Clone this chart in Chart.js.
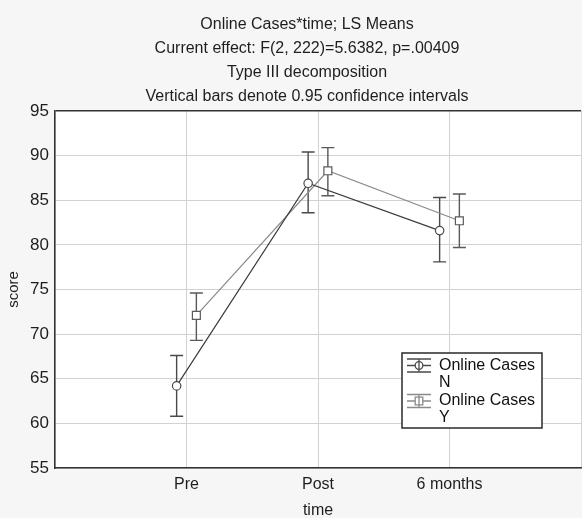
<!DOCTYPE html>
<html>
<head>
<meta charset="utf-8">
<script src="https://cdn.jsdelivr.net/npm/chart.js@4/dist/chart.umd.min.js"></script>
<style>
  html, body { margin: 0; padding: 0; background: #f6f6f6; }
  canvas { display: block; }
</style>
</head>
<body>
<canvas id="c" width="582" height="518"></canvas>
<script>
// LS means of score by time, split by Online Cases (N / Y), with 95% CIs
const categories = ['Pre', 'Post', '6 months'];

const meanN = [64.2, 86.9, 81.6];
const lowN  = [60.8, 83.6, 78.1];
const highN = [67.6, 90.4, 85.3];

const meanY = [72.1, 88.3, 82.7];
const lowY  = [69.3, 85.5, 79.7];
const highY = [74.6, 90.9, 85.7];

const titleLines = [
  'Online Cases*time; LS Means',
  'Current effect: F(2, 222)=5.6382, p=.00409',
  'Type III decomposition',
  'Vertical bars denote 0.95 confidence intervals'
];
const legendLabels = [['Online Cases', 'N'], ['Online Cases', 'Y']];

const FONT = '"Liberation Sans", Arial, Helvetica, sans-serif';
const DODGE = 0.075; // horizontal shift so the two groups don't overlap

function points(means, shift) {
  return means.map((v, i) => ({ x: i + 1 + shift, y: v }));
}

const seriesStyle = [
  { line: '#3c3c3c', bar: '#4a4a4a', point: 'circle', radius: 4.2 },
  { line: '#8a8a8a', bar: '#5a5a5a', point: 'rect', radius: 5.6 }
];
const intervals = [
  { low: lowN, high: highN, shift: -DODGE },
  { low: lowY, high: highY, shift: DODGE }
];

// background: grey page, white plotting area
const backgroundPlugin = {
  id: 'bg',
  beforeDraw(chart) {
    const { ctx, chartArea: a } = chart;
    ctx.save();
    ctx.fillStyle = '#f6f6f6';
    ctx.fillRect(0, 0, chart.width, chart.height);
    ctx.fillStyle = '#ffffff';
    ctx.fillRect(a.left, a.top, a.right - a.left, a.bottom - a.top);
    ctx.restore();
  }
};

// confidence interval whiskers
const errorBarPlugin = {
  id: 'errorBars',
  beforeDatasetsDraw(chart) {
    const { ctx, scales: { x, y } } = chart;
    ctx.save();
    intervals.forEach((iv, s) => {
      ctx.strokeStyle = seriesStyle[s].bar;
      ctx.lineWidth = 1.4;
      iv.low.forEach((lo, i) => {
        const px = x.getPixelForValue(i + 1 + iv.shift);
        const pLo = y.getPixelForValue(lo);
        const pHi = y.getPixelForValue(iv.high[i]);
        const cap = 6.5;
        ctx.beginPath();
        ctx.moveTo(px, pLo); ctx.lineTo(px, pHi);
        ctx.moveTo(px - cap, pLo); ctx.lineTo(px + cap, pLo);
        ctx.moveTo(px - cap, pHi); ctx.lineTo(px + cap, pHi);
        ctx.stroke();
      });
    });
    ctx.restore();
  }
};

// stacked title lines
const titlePlugin = {
  id: 'titles',
  afterDraw(chart) {
    const { ctx } = chart;
    ctx.save();
    ctx.fillStyle = '#1e1e1e';
    ctx.font = '16px ' + FONT;
    ctx.textAlign = 'center';
    ctx.textBaseline = 'middle';
    const ys = [25, 49, 73, 97];
    titleLines.forEach((t, i) => ctx.fillText(t, 307, ys[i]));
    ctx.restore();
  }
};

// boxed legend with whisker glyphs and two-line labels
const legendPlugin = {
  id: 'boxLegend',
  afterDraw(chart) {
    const { ctx } = chart;
    const bx = 402, by = 353, bw = 140, bh = 75;
    ctx.save();
    ctx.fillStyle = '#ffffff';
    ctx.fillRect(bx, by, bw, bh);
    ctx.strokeStyle = '#2a2a2a';
    ctx.lineWidth = 1.5;
    ctx.strokeRect(bx, by, bw, bh);
    ctx.font = '16px ' + FONT;
    ctx.textBaseline = 'middle';
    ctx.textAlign = 'left';
    legendLabels.forEach((lab, s) => {
      const cy = by + 12.5 + s * 35.5;
      const st = seriesStyle[s];
      const gx0 = bx + 5, gx1 = bx + 29, gc = (gx0 + gx1) / 2;
      ctx.strokeStyle = s === 0 ? '#4a4a4a' : '#8a8a8a';
      ctx.lineWidth = 1.3;
      ctx.beginPath();
      ctx.moveTo(gx0, cy - 6.5); ctx.lineTo(gx1, cy - 6.5);
      ctx.moveTo(gx0, cy + 6.5); ctx.lineTo(gx1, cy + 6.5);
      ctx.moveTo(gx0, cy); ctx.lineTo(gx1, cy);
      ctx.moveTo(gc, cy - 6.5); ctx.lineTo(gc, cy + 6.5);
      ctx.stroke();
      ctx.fillStyle = '#ffffff';
      ctx.beginPath();
      if (st.point === 'circle') {
        ctx.arc(gc, cy, 3.8, 0, Math.PI * 2);
      } else {
        ctx.rect(gc - 3.8, cy - 3.8, 7.6, 7.6);
      }
      ctx.fill();
      ctx.stroke();
      ctx.beginPath();
      ctx.moveTo(gc, cy - 3.8); ctx.lineTo(gc, cy + 3.8);
      ctx.stroke();
      ctx.fillStyle = '#111111';
      ctx.fillText(lab[0], bx + 37, cy);
      ctx.fillText(lab[1], bx + 37, cy + 17);
    });
    ctx.restore();
  }
};

new Chart(document.getElementById('c'), {
  type: 'scatter',
  data: {
    datasets: [
      {
        label: 'Online Cases N',
        data: points(meanN, -DODGE),
        showLine: true,
        borderColor: seriesStyle[0].line,
        borderWidth: 1.2,
        pointStyle: seriesStyle[0].point,
        pointRadius: seriesStyle[0].radius,
        pointBorderColor: '#4a4a4a',
        pointBackgroundColor: '#ffffff',
        pointBorderWidth: 1.2
      },
      {
        label: 'Online Cases Y',
        data: points(meanY, DODGE),
        showLine: true,
        borderColor: seriesStyle[1].line,
        borderWidth: 1.2,
        pointStyle: seriesStyle[1].point,
        pointRadius: seriesStyle[1].radius,
        pointBorderColor: '#5a5a5a',
        pointBackgroundColor: '#ffffff',
        pointBorderWidth: 1.2
      }
    ]
  },
  options: {
    responsive: false,
    animation: false,
    layout: { autoPadding: false, padding: { top: 111, right: 1, left: 0, bottom: 0 } },
    plugins: {
      legend: { display: false },
      tooltip: { enabled: false }
    },
    scales: {
      x: {
        type: 'linear',
        min: 0,
        max: 4,
        afterBuildTicks(scale) {
          scale.ticks = [0, 1, 2, 3, 4].map(v => ({ value: v }));
        },
        afterFit(scale) {
          scale.height = 50;
          scale.paddingLeft = 0;
          scale.paddingRight = 0;
        },
        ticks: {
          autoSkip: false,
          maxRotation: 0,
          padding: 7,
          color: '#1e1e1e',
          font: { family: FONT, size: 16 },
          callback: v => categories[v - 1] || ''
        },
        grid: {
          drawTicks: false,
          color: '#d2d2d2',
          lineWidth: 1
        },
        border: { color: '#333333', width: 1.5 },
        title: {
          display: true,
          text: 'time',
          color: '#1e1e1e',
          font: { family: FONT, size: 16 },
          padding: { top: 0, bottom: -2 }
        }
      },
      y: {
        min: 55,
        max: 95,
        afterFit(scale) { scale.width = 55; },
        ticks: {
          stepSize: 5,
          padding: 6,
          color: '#1e1e1e',
          font: { family: FONT, size: 17 }
        },
        grid: {
          drawTicks: false,
          color: ctx => ctx.tick && ctx.tick.value === 95 ? '#333333' : '#d2d2d2',
          lineWidth: ctx => ctx.tick && ctx.tick.value === 95 ? 1.5 : 1
        },
        border: { color: '#333333', width: 1.5 },
        title: {
          display: true,
          text: 'score',
          color: '#1e1e1e',
          font: { family: FONT, size: 15 },
          padding: { top: 5, bottom: 0 }
        }
      }
    }
  },
  plugins: [backgroundPlugin, errorBarPlugin, titlePlugin, legendPlugin]
});
</script>
</body>
</html>
